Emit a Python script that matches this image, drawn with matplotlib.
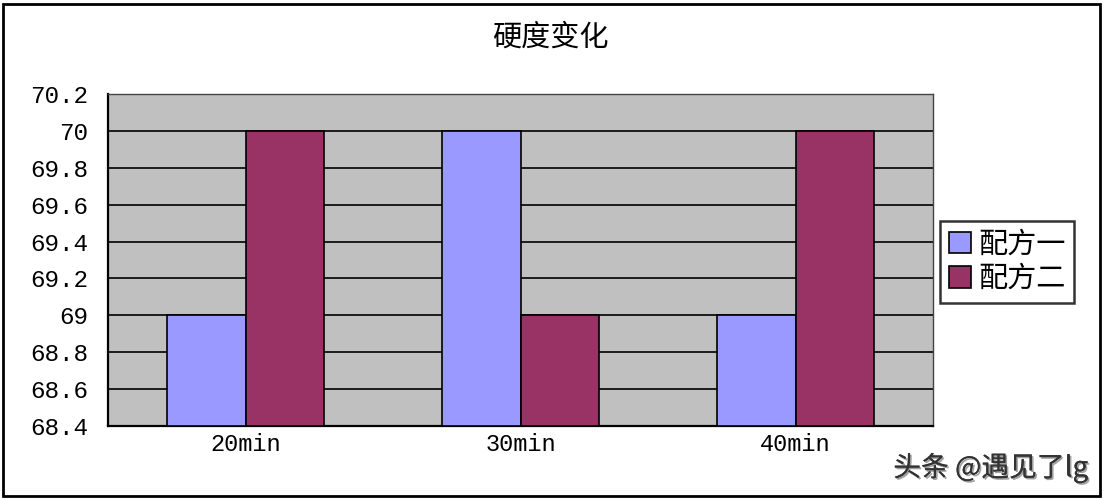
import matplotlib.pyplot as plt
import matplotlib.patheffects as pe
import numpy as np
from matplotlib.patches import Rectangle

plt.rcParams['font.family'] = ['Noto Sans CJK SC', 'DejaVu Sans']

# data
categories = ['20min', '30min', '40min']
series_names = ['配方一', '配方二']
recipe_1 = [69, 70, 69]
recipe_2 = [70, 69, 70]
y_ticks = [68.4, 68.6, 68.8, 69, 69.2, 69.4, 69.6, 69.8, 70, 70.2]
y_labels = ['68.4', '68.6', '68.8', '69', '69.2', '69.4', '69.6', '69.8', '70', '70.2']

fig = plt.figure(figsize=(11.04, 5), dpi=100)
ax = fig.add_axes([108 / 1104, 1 - 426 / 500, (933 - 108) / 1104, (426 - 94) / 500])
ax.set_facecolor('#C0C0C0')

x = np.arange(len(categories))
w = 0.285
base = y_ticks[0]
ax.bar(x - w / 2, np.array(recipe_1) - base, w, bottom=base, color='#9999FF',
       edgecolor='black', linewidth=1.2, label=series_names[0], zorder=3)
ax.bar(x + w / 2, np.array(recipe_2) - base, w, bottom=base, color='#993366',
       edgecolor='black', linewidth=1.2, label=series_names[1], zorder=3)

ax.set_xlim(-0.5, 2.5)
ax.set_ylim(68.4, 70.2)
ax.set_yticks(y_ticks)
ax.set_yticklabels(y_labels, family='Liberation Mono', fontsize=17.5)
ax.set_xticks(x)
ax.set_xticklabels(categories, family='Liberation Mono', fontsize=17)
ax.yaxis.grid(True, color='black', linewidth=1.2, zorder=1)
ax.set_axisbelow(True)
ax.tick_params(axis='y', length=0, pad=14)
ax.tick_params(axis='x', length=0, pad=5)
for s in ax.spines.values():
    s.set_color('#444444')
    s.set_linewidth(1)
ax.spines['left'].set_color('black')
ax.spines['left'].set_linewidth(1.6)
ax.spines['bottom'].set_color('black')
ax.spines['bottom'].set_linewidth(1.6)

fig.text(550 / 1104, 1 - 38 / 500, '硬度变化', ha='center', va='center', fontsize=21)

leg = fig.legend(loc='upper left', bbox_to_anchor=(940 / 1104, 1 - 221 / 500),
                 fontsize=21, frameon=True, fancybox=False, edgecolor='black',
                 handlelength=0.75, handleheight=0.75, handletextpad=0.25,
                 borderpad=0.3, labelspacing=0.15, borderaxespad=0)
leg.get_frame().set_linewidth(1.8)

fig.text(1088 / 1104, 1 - 468 / 500, '头条 @遇见了lg', ha='right', va='center',
         fontsize=20, color='#333333',
         path_effects=[pe.withSimplePatchShadow(offset=(1.2, -1.2), shadow_rgbFace='#888888', alpha=0.8), pe.Normal()])

fig.patches.append(Rectangle((3 / 1104, 4 / 500), 1097 / 1104, 492 / 500,
                             transform=fig.transFigure, fill=False,
                             edgecolor='black', linewidth=2))

fig.savefig('out.png', dpi=100)
